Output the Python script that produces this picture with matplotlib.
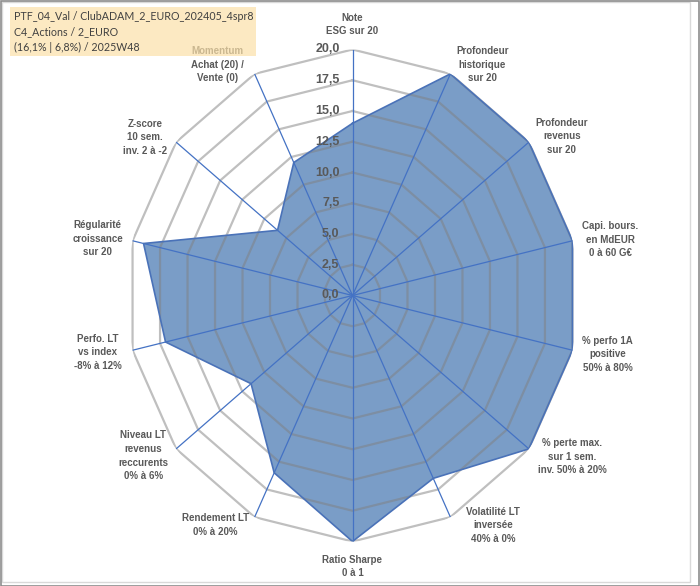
import matplotlib.pyplot as plt
import numpy as np
from matplotlib.patches import Rectangle

# axis labels, clockwise from the top
labels = [
    "Note\nESG sur 20",
    "Profondeur\nhistorique\nsur 20",
    "Profondeur\nrevenus\nsur 20",
    "Capi. bours.\nen MdEUR\n0 à 60 G€",
    "% perfo 1A\npositive\n50% à 80%",
    "% perte max.\nsur 1 sem.\ninv. 50% à 20%",
    "Volatilité LT\ninversée\n40% à 0%",
    "Ratio Sharpe\n0 à 1",
    "Rendement LT\n0% à 20%",
    "Niveau LT\nrevenus\nreccurents\n0% à 6%",
    "Perfo. LT\nvs index\n-8% à 12%",
    "Régularité\ncroissance\nsur 20",
    "Z-score\n10 sem.\ninv. 2 à -2",
    "Momentum\nAchat (20) /\nVente (0)",
]
scores = [14.0, 20.0, 20.0, 20.0, 20.0, 20.0, 16.5, 20.0, 16.0, 11.5, 17.0, 19.0, 8.5, 12.0]
rings = [0.0, 2.5, 5.0, 7.5, 10.0, 12.5, 15.0, 17.5, 20.0]
title_lines = [
    "PTF_04_Val / ClubADAM_2_EURO_202405_4spr8",
    "C4_Actions / 2_EURO",
    "(16,1% | 6,8%) / 2025W48",
]

# label offsets in pixels from the outer end of each spoke
label_offsets = [(0, 25), (32, 9), (33, 6), (38, 1), (35, -4), (43, -8), (43, -8),
                 (0, -25), (-39, -8), (-33, -7), (-35, -2), (-35, 2), (-31, 5), (-37, 9)]

W, H = 700, 586
fig = plt.figure(figsize=(W / 100, H / 100), dpi=100)
fig.patch.set_facecolor("white")

# radar is slightly squeezed horizontally in the reference
cx, cy = 352.5, 295.5
rx, ry = 225.6, 246.0
ax = fig.add_axes([(cx - rx) / W, (H - cy - ry) / H, 2 * rx / W, 2 * ry / H], projection="polar")
ax.set_aspect("auto")
ax.set_theta_zero_location("N")
ax.set_theta_direction(-1)
ax.set_ylim(0, 20)
ax.grid(False)
ax.spines["polar"].set_visible(False)
ax.set_xticks([])
ax.set_yticks([])
ax.patch.set_alpha(0)

n = len(labels)
angles = np.arange(n) * 2 * np.pi / n
ang_c = np.append(angles, angles[0])
vals_c = np.append(scores, scores[0])

ax.fill(ang_c, vals_c, color="#7A9DC7", zorder=2, linewidth=0)
ax.plot(ang_c, vals_c, color="#4A72B8", linewidth=1.2, zorder=5)

for r in rings[1:]:
    ax.plot(ang_c, [r] * (n + 1), color="#808080", alpha=0.5, linewidth=1.6, zorder=3)

for a in angles:
    ax.plot([a, a], [0, 20], color="#4472C4", linewidth=0.9, zorder=4)

for r in rings:
    ax.annotate(f"{r:.1f}".replace(".", ","), xy=(0, r), xytext=(-13, 0), textcoords="offset pixels",
                ha="right", va="center", fontsize=9, color="#595959", fontweight="bold",
                family="Liberation Sans", zorder=6, annotation_clip=False)

for a, lab, (dx, dy) in zip(angles, labels, label_offsets):
    ax.annotate(lab, xy=(a, 20), xytext=(dx, dy), textcoords="offset pixels",
                ha="center", va="center", fontsize=7.0, color="#595959", fontweight="bold",
                family="Liberation Sans", linespacing=1.45, zorder=6, annotation_clip=False)

# title box, semi-opaque so the label under it shows through
fig.patches.append(Rectangle((10 / W, 1 - 56 / H), 246 / W, 49 / H, transform=fig.transFigure,
                             facecolor="#FBE0A8", alpha=0.7, edgecolor="none", zorder=10))
for i, line in enumerate(title_lines):
    fig.text(14 / W, 1 - (17 + 15 * i) / H, line, ha="left", va="center", fontsize=7.7,
             color="#404040", family="Lato", zorder=11)

# frame
fig.patches.append(Rectangle((2 / W, 4 / H), 688 / W, 580 / H, transform=fig.transFigure,
                             facecolor="none", edgecolor="#D9D9D9", linewidth=1.0))
fig.patches.append(Rectangle((0.5 / W, 0.5 / H), (W - 1.5) / W, (H - 1) / H, transform=fig.transFigure,
                             facecolor="none", edgecolor="#8C8C8C", linewidth=1.2))

fig.savefig("out.png", dpi=100)
